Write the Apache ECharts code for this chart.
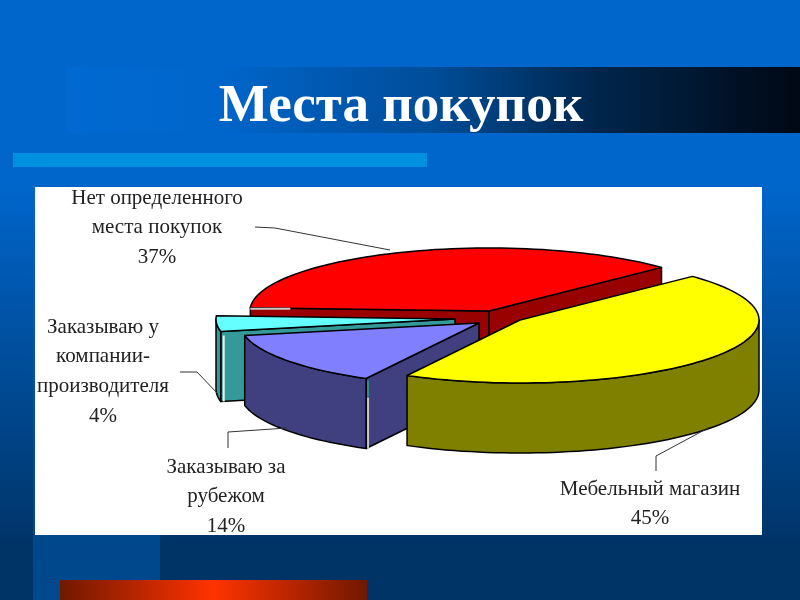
<!DOCTYPE html>
<html><head><meta charset="utf-8">
<style>html,body{margin:0;padding:0;background:#003366}#c{width:800px;height:600px}</style>
<script src="https://cdn.jsdelivr.net/npm/echarts@6/dist/echarts.min.js"></script>
</head><body><div id="c"></div>
<script>
// ---- data ----
var titleText = 'Места покупок';
var categories = ['Нет определенного\nместа покупок', 'Мебельный магазин', 'Заказываю за\nрубежом', 'Заказываю у\nкомпании-\nпроизводителя'];
var values = [37, 45, 14, 4];
// ---- styles / layout (separate from data) ----
var topColors = ['#FF0000', '#FFFF00', '#8080FF', '#66FFFF'];
var wallColors = ['#990000', '#808000', '#404080', '#339999'];
var tips = [[489, 311], [520, 320], [479, 323], [455, 319]];   // exploded slice centres
var labelPos = [[157, 198], [650, 489], [226, 467], [103, 327]];
var leaders = [
  [[255, 227], [275, 228], [390, 250]],
  [[656, 471], [656, 456], [710, 427]],
  [[228, 448], [228, 432], [287, 428]],
  [[180, 372], [197, 372], [218, 394]]
];
var drawOrder = [0, 3, 2, 1];
var RX = 239, RY = 63, DEPTH = 70, START = -177, EDGE = '#000', LINE = 29.7;

var D = Math.PI / 180;
var starts = [], acc = START;
values.forEach(function (v) { starts.push(acc); acc += v * 3.6; });

function rim(i, a, dz) {
  return [tips[i][0] + RX * Math.cos(a * D), tips[i][1] + RY * Math.sin(a * D) + (dz || 0)];
}
function poly(pts, fill) {
  return { type: 'polygon', shape: { points: pts }, style: { fill: fill, stroke: EDGE, lineWidth: 1.5, lineJoin: 'round' } };
}
function face(i, a, fill) {
  var t = tips[i], r = rim(i, a);
  return poly([t, r, [r[0], r[1] + DEPTH], [t[0], t[1] + DEPTH]], fill);
}
// pale highlight lines the original shows on slice corners: [slice, dx, dy0, dy1, dxEnd, colour]
var glints = [
  [0, 0, 1, 1, 40, '#C8C8C8'],
  [3, 3, 4, 70, 3, '#F0F0F0'],
  [2, 2, 19, 70, 2, '#C8C8C8'],
  [2, 2, 2, 18, 2, '#2F8F8F']
];
function renderItem(params, api) {
  var v = api.value(0), i = api.value(1);
  var a0 = starts[i], a1 = a0 + v * 3.6, kids = [], a, pts;
  // cut faces whose outward normal points towards the viewer
  if (Math.sin((a0 - 90) * D) > 0) kids.push(face(i, a0, wallColors[i]));
  if (Math.sin((a1 + 90) * D) > 0) kids.push(face(i, a1, wallColors[i]));
  // outer wall: only the front half of the ellipse shows
  var w0 = Math.max(a0, 0), w1 = Math.min(a1, 180);
  if (w1 > w0) {
    var up = [], dn = [];
    for (a = w0; a <= w1; a += 2) { up.push(rim(i, a)); dn.unshift(rim(i, a, DEPTH)); }
    up.push(rim(i, w1)); dn.unshift(rim(i, w1, DEPTH));
    kids.push(poly(up.concat(dn), wallColors[i]));
  }
  // top face
  pts = [tips[i]];
  for (a = a0; a < a1; a += 2) pts.push(rim(i, a));
  pts.push(rim(i, a1));
  kids.push(poly(pts, topColors[i]));
  // corner highlights
  glints.forEach(function (g) {
    if (g[0] !== i) return;
    var c = rim(i, a0);
    kids.push({ type: 'line', shape: { x1: c[0] + g[1], y1: c[1] + g[2], x2: c[0] + g[4], y2: c[1] + g[3] }, style: { stroke: g[5], lineWidth: 2 } });
  });
  // leader line and label
  kids.push({ type: 'polyline', shape: { points: leaders[i] }, style: { fill: 'none', stroke: '#333', lineWidth: 1 } });
  kids.push({
    type: 'text', style: {
      x: labelPos[i][0], y: labelPos[i][1] - LINE / 2,
      text: categories[i] + '\n' + v + '%',
      align: 'center', verticalAlign: 'top', fill: '#222', lineHeight: LINE,
      font: '21px "Liberation Serif", serif'
    }
  });
  return { type: 'group', children: kids };
}

var chart = echarts.init(document.getElementById('c'), null, { renderer: 'canvas' });
function rect(x, y, w, h, fill, z) { return { type: 'rect', z: z, silent: true, shape: { x: x, y: y, width: w, height: h }, style: { fill: fill } }; }
function lg(x2, y2, stops) { return new echarts.graphic.LinearGradient(0, 0, x2, y2, stops); }
chart.setOption({
  animation: false,
  backgroundColor: lg(0, 1, [{ offset: 0, color: '#0066CC' }, { offset: 0.3, color: '#0066CC' }, { offset: 0.92, color: '#003366' }, { offset: 1, color: '#003366' }]),
  title: {
    text: titleText, left: 396, top: 76, textAlign: 'center',
    textStyle: { color: '#fff', fontFamily: '"Liberation Serif", serif', fontWeight: 'bold', fontSize: 53 }
  },
  graphic: { elements: [
    rect(33, 60, 127, 540, lg(0, 1, [{ offset: 0, color: 'rgba(0,110,215,0.05)' }, { offset: 0.5, color: 'rgba(0,100,200,0.25)' }, { offset: 1, color: 'rgba(0,100,190,0.45)' }]), 0),
    rect(67, 67, 733, 66, lg(1, 0, [{ offset: 0, color: '#006AD2' }, { offset: 0.2, color: '#0066CC' }, { offset: 0.5, color: '#004D99' }, { offset: 0.72, color: '#00264D' }, { offset: 1, color: '#000814' }]), 1),
    rect(13, 153, 414, 14, '#0090E0', 1),
    rect(35, 187, 727, 348, '#FFFFFF', 1),
    rect(60, 580, 307, 20, lg(1, 0, [{ offset: 0, color: '#701800' }, { offset: 0.5, color: '#FF3300' }, { offset: 1, color: '#701800' }]), 1)
  ] },
  series: [{
    type: 'custom', coordinateSystem: 'none', silent: true, clip: false,
    renderItem: renderItem,
    data: drawOrder.map(function (i) { return [values[i], i]; })
  }]
});
</script></body></html>
